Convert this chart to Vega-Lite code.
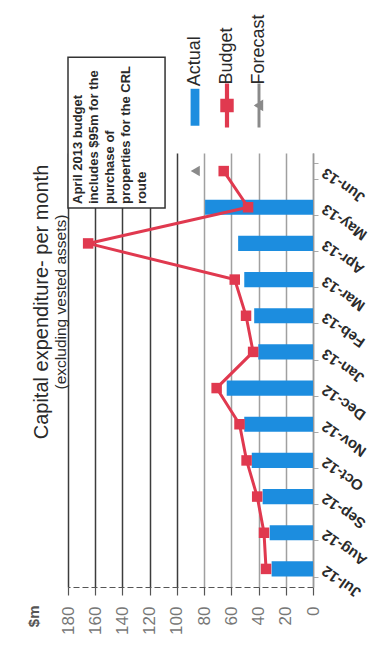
{
  "$schema": "https://vega.github.io/schema/vega-lite/v6.json",
  "autosize": "none",
  "width": 245,
  "height": 434,
  "padding": {"left": 68, "top": 153, "right": 72, "bottom": 76},
  "background": "white",
  "config": {"view": {"stroke": null}},
  "title": {
    "text": "Capital expenditure- per month",
    "subtitle": "(excluding vested assets)",
    "orient": "left",
    "anchor": "middle",
    "frame": "group",
    "font": "Liberation Sans",
    "fontSize": 20,
    "fontWeight": "normal",
    "color": "#2a2a2a",
    "subtitleFont": "Liberation Sans",
    "subtitleFontSize": 15.5,
    "subtitleColor": "#2a2a2a",
    "subtitlePadding": 2,
    "offset": -43,
    "dx": 68
  },
  "datasets": {
    "capex": [
      {"month": "Jul-12", "idx": 1, "series": "Actual", "value": 30.4},
      {"month": "Aug-12", "idx": 2, "series": "Actual", "value": 31.8},
      {"month": "Sep-12", "idx": 3, "series": "Actual", "value": 37},
      {"month": "Oct-12", "idx": 4, "series": "Actual", "value": 45},
      {"month": "Nov-12", "idx": 5, "series": "Actual", "value": 50.5},
      {"month": "Dec-12", "idx": 6, "series": "Actual", "value": 63.4},
      {"month": "Jan-13", "idx": 7, "series": "Actual", "value": 40.2},
      {"month": "Feb-13", "idx": 8, "series": "Actual", "value": 43.2},
      {"month": "Mar-13", "idx": 9, "series": "Actual", "value": 50.5},
      {"month": "Apr-13", "idx": 10, "series": "Actual", "value": 55},
      {"month": "May-13", "idx": 11, "series": "Actual", "value": 79.3},
      {"month": "Jul-12", "idx": 1, "series": "Budget", "value": 34.5},
      {"month": "Aug-12", "idx": 2, "series": "Budget", "value": 36},
      {"month": "Sep-12", "idx": 3, "series": "Budget", "value": 41},
      {"month": "Oct-12", "idx": 4, "series": "Budget", "value": 48.8},
      {"month": "Nov-12", "idx": 5, "series": "Budget", "value": 54},
      {"month": "Dec-12", "idx": 6, "series": "Budget", "value": 70.8},
      {"month": "Jan-13", "idx": 7, "series": "Budget", "value": 44},
      {"month": "Feb-13", "idx": 8, "series": "Budget", "value": 49.2},
      {"month": "Mar-13", "idx": 9, "series": "Budget", "value": 57.5},
      {"month": "Apr-13", "idx": 10, "series": "Budget", "value": 165.2},
      {"month": "May-13", "idx": 11, "series": "Budget", "value": 47.7},
      {"month": "Jun-13", "idx": 12, "series": "Budget", "value": 65.6},
      {"month": "Jun-13", "idx": 12, "series": "Forecast", "value": 86.5}
    ],
    "note": [
      {"note": "April 2013  budget\nincludes $95m  for the\npurchase of\nproperties for the CRL\nroute"}
    ]
  },
  "layer": [
    {
      "data": {"name": "note"},
      "layer": [
        {
          "mark": {"type": "rect", "fill": "white", "stroke": "#333333", "strokeWidth": 1.5},
          "encoding": {
            "x": {"datum": 180, "type": "quantitative", "scale": {"domain": [0, 180], "reverse": true, "nice": false},
              "axis": {
                "values": [0, 20, 40, 60, 80, 100, 120, 140, 160, 180], "tickCount": 12,
                "title": "$m", "titleAngle": -90, "titleAlign": "right", "titleBaseline": "middle",
                "titleX": -35, "titleY": 18, "titleFont": "Liberation Sans", "titleFontSize": 15, "titleFontWeight": "bold", "titleColor": "#555555",
                "labelAngle": -90, "labelAlign": "right", "labelBaseline": "middle",
                "labelFont": "Liberation Sans", "labelFontSize": 17, "labelColor": "#777777", "labelPadding": 11,
                "labelFlush": false, "labelOverlap": false,
                "tickSize": 8, "tickColor": "#555555", "tickWidth": 1.2,
                "domainColor": "#555555", "domainDash": [6, 3], "domainWidth": 1.2,
                "grid": true, "gridWidth": 1.5,
                "gridColor": {"condition": {"test": "datum.value >= 100", "value": "#3c3c3c"}, "value": "#a0a0a0"}
              }},
            "x2": {"datum": 108.7},
            "y": {"datum": 10.48, "type": "quantitative", "scale": {"domain": [0, 12], "nice": false, "zero": false}, "axis": null},
            "y2": {"datum": 14.65}
          }
        },
        {
          "mark": {"type": "text", "angle": -90, "align": "left", "baseline": "top", "lineBreak": "\n", "lineHeight": 16, "font": "Liberation Sans", "fontSize": 13, "fontWeight": "bold", "color": "#2a2a2a"},
          "encoding": {
            "x": {"datum": 177, "type": "quantitative"},
            "y": {"datum": 10.59, "type": "quantitative", "scale": {"domain": [0, 12], "nice": false, "zero": false}, "axis": null},
            "text": {"field": "note", "type": "nominal"}
          }
        }
      ]
    },
    {
      "data": {"name": "capex"},
      "layer": [
        {
          "transform": [{"filter": "datum.series === 'Actual'"}],
          "mark": {"type": "bar", "color": "#1c8ddf"},
          "encoding": {
            "y": {
              "field": "month", "type": "nominal",
              "scale": {"domain": ["Jun-13","May-13","Apr-13","Mar-13","Feb-13","Jan-13","Dec-12","Nov-12","Oct-12","Sep-12","Aug-12","Jul-12"], "paddingInner": 0.58, "paddingOuter": 0.29},
              "axis": {
                "orient": "right", "title": null,
                "labelAngle": 215, "labelAlign": "right", "labelBaseline": "middle",
                "labelFont": "Liberation Sans", "labelFontSize": 15, "labelFontWeight": "bold", "labelColor": "#2b2b2b",
                "labelPadding": 5, "tickBand": "extent", "tickSize": 5, "tickColor": "#aaaaaa",
                "domainColor": "#999999", "domainWidth": 1.5, "grid": false
              }
            },
            "x": {
              "field": "value", "type": "quantitative",
              "axis": {
                "values": [0, 20, 40, 60, 80, 100, 120, 140, 160, 180], "tickCount": 12,
                "title": "$m", "titleAngle": -90, "titleAlign": "right", "titleBaseline": "middle",
                "titleX": -35, "titleY": 18, "titleFont": "Liberation Sans", "titleFontSize": 15, "titleFontWeight": "bold", "titleColor": "#555555",
                "labelAngle": -90, "labelAlign": "right", "labelBaseline": "middle",
                "labelFont": "Liberation Sans", "labelFontSize": 17, "labelColor": "#777777", "labelPadding": 11,
                "labelFlush": false, "labelOverlap": false,
                "tickSize": 8, "tickColor": "#555555", "tickWidth": 1.2,
                "domainColor": "#555555", "domainDash": [6, 3], "domainWidth": 1.2,
                "grid": true, "gridWidth": 1.5,
                "gridColor": {"condition": {"test": "datum.value >= 100", "value": "#3c3c3c"}, "value": "#a0a0a0"}
              }
            },
            "color": {
              "field": "series", "type": "nominal",
              "scale": {"domain": ["Actual", "Budget", "Forecast"], "range": ["#1c8ddf", "#e0394f", "#8a8a8a"]},
              "legend": {
                "orient": "none", "legendX": 106, "legendY": -69, "direction": "horizontal", "columns": 3,
                "title": null, "symbolSize": 1764, "labelOffset": -21, "columnPadding": 1,
                "labelFont": "Liberation Sans", "labelFontSize": 18, "labelColor": "#2a2a2a",
                "encode": {
                  "labels": {"update": {"angle": {"value": -90}, "align": {"value": "left"}, "baseline": {"value": "middle"}, "dx": {"value": 21}}},
                  "symbols": {"update": {
                    "shape": [
                      {"test": "datum.value === 'Actual'", "value": "M-0.21,-0.88H0.21V0.88H-0.21Z"},
                      {"test": "datum.value === 'Budget'", "value": "M-0.1,-1.05H0.1V1.05H-0.1Z M-0.32,-0.32H0.32V0.32H-0.32Z"},
                      {"value": "M-0.07,-1.05H0.07V1.05H-0.07Z M-0.25,0L0.2,-0.28L0.2,0.28Z"}
                    ],
                    "fill": [
                      {"test": "datum.value === 'Actual'", "value": "#1c8ddf"},
                      {"test": "datum.value === 'Budget'", "value": "#e0394f"},
                      {"value": "#8a8a8a"}
                    ],
                    "fillOpacity": {"value": 1},
                    "opacity": {"value": 1},
                    "stroke": {"value": "transparent"},
                    "strokeWidth": {"value": 0}
                  }}
                }
              }
            }
          }
        },
        {
          "transform": [{"filter": "datum.series === 'Budget'"}],
          "mark": {"type": "line", "strokeWidth": 3, "point": {"shape": "square", "size": 110, "filled": true, "opacity": 1}},
          "encoding": {
            "y": {"field": "month", "type": "nominal", "scale": {"domain": ["Jun-13","May-13","Apr-13","Mar-13","Feb-13","Jan-13","Dec-12","Nov-12","Oct-12","Sep-12","Aug-12","Jul-12"]}},
            "x": {"field": "value", "type": "quantitative"},
            "order": {"field": "idx", "type": "quantitative"},
            "color": {"field": "series", "type": "nominal"}
          }
        },
        {
          "transform": [{"filter": "datum.series === 'Forecast'"}],
          "mark": {"type": "point", "shape": "triangle-left", "size": 110, "filled": true, "opacity": 1},
          "encoding": {
            "y": {"field": "month", "type": "nominal", "scale": {"domain": ["Jun-13","May-13","Apr-13","Mar-13","Feb-13","Jan-13","Dec-12","Nov-12","Oct-12","Sep-12","Aug-12","Jul-12"]}},
            "x": {"field": "value", "type": "quantitative"},
            "color": {"field": "series", "type": "nominal"}
          }
        }
      ]
    }
  ],
  "resolve": {"scale": {"y": "independent"}}
}
